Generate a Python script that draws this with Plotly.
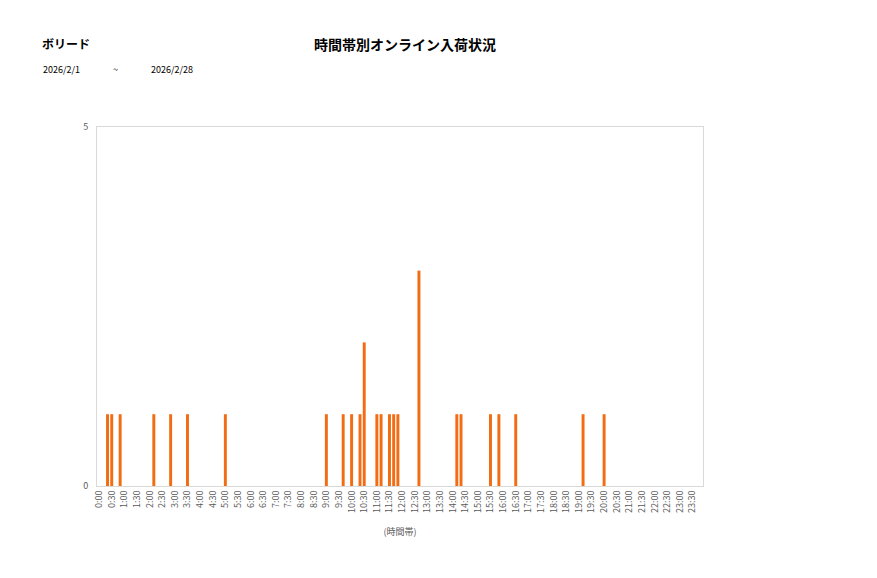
import plotly.graph_objects as go

# 10-minute time slots (categories)
categories = [f"{h}:{m:02d}" for h in range(24) for m in (0, 10, 20, 30, 40, 50)]

# counts per 10-minute slot, one row per hour
values = [
    0, 0, 1, 1, 0, 1,   # 0:00
    0, 0, 0, 0, 0, 0,   # 1:00
    0, 1, 0, 0, 0, 1,   # 2:00
    0, 0, 0, 1, 0, 0,   # 3:00
    0, 0, 0, 0, 0, 0,   # 4:00
    1, 0, 0, 0, 0, 0,   # 5:00
    0, 0, 0, 0, 0, 0,   # 6:00
    0, 0, 0, 0, 0, 0,   # 7:00
    0, 0, 0, 0, 0, 0,   # 8:00
    1, 0, 0, 0, 1, 0,   # 9:00
    1, 0, 1, 2, 0, 0,   # 10:00
    1, 1, 0, 1, 1, 1,   # 11:00
    0, 0, 0, 0, 3, 0,   # 12:00
    0, 0, 0, 0, 0, 0,   # 13:00
    0, 1, 1, 0, 0, 0,   # 14:00
    0, 0, 0, 1, 0, 1,   # 15:00
    0, 0, 0, 1, 0, 0,   # 16:00
    0, 0, 0, 0, 0, 0,   # 17:00
    0, 0, 0, 0, 0, 0,   # 18:00
    0, 1, 0, 0, 0, 0,   # 19:00
    1, 0, 0, 0, 0, 0,   # 20:00
    0, 0, 0, 0, 0, 0,   # 21:00
    0, 0, 0, 0, 0, 0,   # 22:00
    0, 0, 0, 0, 0, 0,   # 23:00
]

# tick labels every 30 minutes
tick_labels = [f"{h}:{m:02d}" for h in range(24) for m in (0, 30)]

y_ticks = [0, 5]

title_text = "時間帯別オンライン入荷状況"
store_name = "ボリード"
date_from = "2026/2/1"
date_to = "2026/2/28"
x_title = "(時間帯)"

FONT = "Noto Sans CJK JP, Meiryo, sans-serif"

# plot area in page pixels: x 97..703, y 127..486
def px(x):
    return (x - 97) / 606

def py(y):
    return (486 - y) / 359

fig = go.Figure(
    go.Bar(
        x=categories,
        y=values,
        marker=dict(color="#F26C13", line=dict(width=0)),
    )
)

fig.update_layout(
    width=877,
    height=578,
    margin=dict(l=89, r=182, t=119, b=100),
    paper_bgcolor="white",
    plot_bgcolor="white",
    bargap=0.3,
    showlegend=False,
    font=dict(family=FONT, color="#595959", size=9),
)

fig.update_xaxes(
    type="category",
    categoryorder="array",
    categoryarray=categories,
    tickmode="array",
    tickvals=tick_labels,
    ticktext=tick_labels,
    tickangle=-90,
    tickfont=dict(size=9, color="#595959", family=FONT),
    showgrid=False,
    showline=True,
    linecolor="#D9D9D9",
    linewidth=1,
    mirror=True,
    ticks="",
    title=dict(text=x_title, font=dict(size=9, color="#595959", family=FONT), standoff=16),
)

fig.update_yaxes(
    range=[0, 5],
    tickmode="array",
    tickvals=y_ticks,
    tickfont=dict(size=9, color="#595959", family=FONT),
    showgrid=False,
    zeroline=False,
    showline=True,
    linecolor="#D9D9D9",
    linewidth=1,
    mirror=True,
    ticks="",
    ticklabelstandoff=6,
)

fig.add_annotation(
    text=f"<b>{store_name}</b>", xref="paper", yref="paper",
    x=px(40), y=py(44), xanchor="left", yanchor="middle",
    showarrow=False, font=dict(size=12, color="#000000", family=FONT),
)
fig.add_annotation(
    text=f"<b>{title_text}</b>", xref="paper", yref="paper",
    x=px(405), y=py(44), xanchor="center", yanchor="middle",
    showarrow=False, font=dict(size=14, color="#000000", family=FONT),
)
fig.add_annotation(
    text=date_from, xref="paper", yref="paper",
    x=px(41), y=py(70), xanchor="left", yanchor="middle",
    showarrow=False, font=dict(size=9, color="#000000", family=FONT),
)
fig.add_annotation(
    text="~", xref="paper", yref="paper",
    x=px(115), y=py(70), xanchor="center", yanchor="middle",
    showarrow=False, font=dict(size=9, color="#000000", family=FONT),
)
fig.add_annotation(
    text=date_to, xref="paper", yref="paper",
    x=px(149), y=py(70), xanchor="left", yanchor="middle",
    showarrow=False, font=dict(size=9, color="#000000", family=FONT),
)

fig.write_html("out.html")
